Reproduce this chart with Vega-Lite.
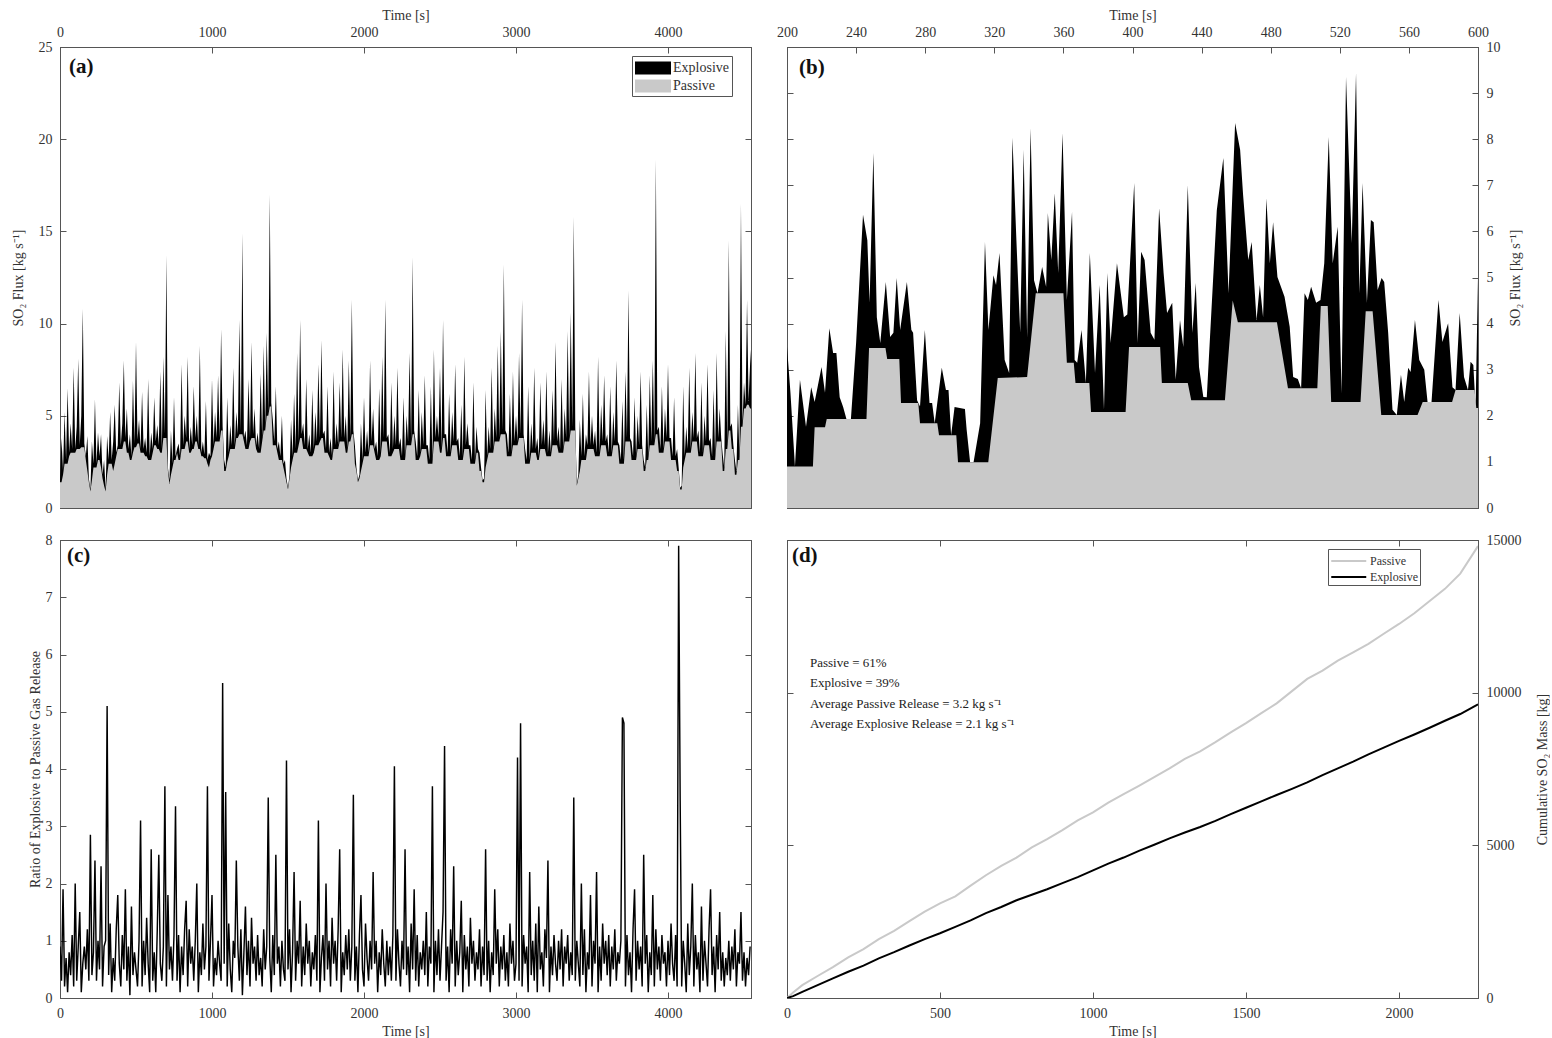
{
"$schema": "https://vega.github.io/schema/vega-lite/v6.json",
"padding": {"left": 10, "top": 7, "right": 0, "bottom": 0},
"config": {
  "font": "Liberation Serif",
  "view": {"stroke": "#555", "strokeWidth": 1},
  "axis": {"labelFont": "Liberation Serif", "titleFont": "Liberation Serif", "labelFontSize": 14, "titleFontSize": 14, "titleFontWeight": "normal", "labelColor": "#333", "titleColor": "#333", "domainColor": "#555", "tickColor": "#555", "tickSize": -6, "labelPadding": 14, "grid": false, "labelFlush": false, "labelOverlap": false},
  "text": {"font": "Liberation Serif", "color": "#222"}
},
"datasets": {
"fluxA": [
{"t":0,"passive":1.4,"total":1.5},{"t":10,"passive":1.4,"total":3.8},{"t":20,"passive":1.8,"total":2.0},{"t":30,"passive":2.4,"total":5.2},{"t":40,"passive":2.4,"total":2.6},{"t":50,"passive":2.4,"total":6.5},{"t":60,"passive":2.8,"total":3.0},{"t":70,"passive":3.0,"total":4.6},{"t":80,"passive":3.0,"total":3.2},{"t":90,"passive":3.0,"total":7.6},
{"t":100,"passive":3.0,"total":3.2},{"t":110,"passive":3.2,"total":4.4},{"t":120,"passive":3.2,"total":8.1},{"t":130,"passive":3.2,"total":3.4},{"t":140,"passive":3.3,"total":5.0},{"t":150,"passive":3.3,"total":10.8},{"t":160,"passive":3.3,"total":3.5},{"t":170,"passive":2.6,"total":2.8},{"t":180,"passive":2.0,"total":3.9},{"t":190,"passive":1.4,"total":1.6},
{"t":200,"passive":0.9,"total":1.0},{"t":210,"passive":1.5,"total":3.6},{"t":220,"passive":2.2,"total":2.4},{"t":230,"passive":2.2,"total":5.9},{"t":240,"passive":2.2,"total":2.4},{"t":250,"passive":2.6,"total":4.1},{"t":260,"passive":2.6,"total":2.8},{"t":270,"passive":2.2,"total":4.0},{"t":280,"passive":1.6,"total":1.8},{"t":290,"passive":1.2,"total":2.6},
{"t":300,"passive":0.9,"total":1.0},{"t":310,"passive":1.8,"total":3.9},{"t":320,"passive":2.4,"total":2.6},{"t":330,"passive":2.4,"total":5.2},{"t":340,"passive":2.4,"total":2.6},{"t":350,"passive":2.0,"total":3.6},{"t":360,"passive":2.4,"total":5.6},{"t":370,"passive":2.8,"total":3.0},{"t":380,"passive":3.2,"total":3.4},{"t":390,"passive":3.2,"total":6.8},
{"t":400,"passive":3.2,"total":3.4},{"t":410,"passive":3.2,"total":4.6},{"t":420,"passive":3.6,"total":8.0},{"t":430,"passive":3.6,"total":3.8},{"t":440,"passive":3.0,"total":5.4},{"t":450,"passive":3.0,"total":3.2},{"t":460,"passive":2.6,"total":4.0},{"t":470,"passive":2.6,"total":2.8},{"t":480,"passive":3.0,"total":6.9},{"t":490,"passive":3.3,"total":3.5},
{"t":500,"passive":3.3,"total":9.0},{"t":510,"passive":3.5,"total":3.7},{"t":520,"passive":3.5,"total":4.8},{"t":530,"passive":3.0,"total":3.2},{"t":540,"passive":3.0,"total":6.3},{"t":550,"passive":3.0,"total":3.2},{"t":560,"passive":2.8,"total":3.8},{"t":570,"passive":2.8,"total":3.0},{"t":580,"passive":2.6,"total":7.0},{"t":590,"passive":2.6,"total":2.8},
{"t":600,"passive":2.6,"total":4.1},{"t":610,"passive":3.0,"total":3.2},{"t":620,"passive":3.4,"total":6.0},{"t":630,"passive":3.4,"total":3.6},{"t":640,"passive":3.2,"total":4.5},{"t":650,"passive":3.2,"total":3.4},{"t":660,"passive":3.0,"total":7.4},{"t":670,"passive":3.0,"total":3.2},{"t":680,"passive":3.8,"total":8.2},{"t":690,"passive":3.8,"total":4.0},
{"t":700,"passive":3.8,"total":13.7},{"t":710,"passive":2.0,"total":2.2},{"t":720,"passive":1.3,"total":1.5},{"t":730,"passive":1.8,"total":4.2},{"t":740,"passive":2.2,"total":2.4},{"t":750,"passive":2.6,"total":6.0},{"t":760,"passive":2.6,"total":2.8},{"t":770,"passive":3.0,"total":3.2},{"t":780,"passive":2.6,"total":3.5},{"t":790,"passive":2.6,"total":2.8},
{"t":800,"passive":3.2,"total":7.8},{"t":810,"passive":3.2,"total":3.4},{"t":820,"passive":3.2,"total":5.0},{"t":830,"passive":3.6,"total":3.8},{"t":840,"passive":3.6,"total":8.2},{"t":850,"passive":3.0,"total":3.2},{"t":860,"passive":3.0,"total":4.4},{"t":870,"passive":3.2,"total":3.4},{"t":880,"passive":3.2,"total":6.6},{"t":890,"passive":3.6,"total":3.8},
{"t":900,"passive":3.6,"total":5.0},{"t":910,"passive":3.2,"total":3.4},{"t":920,"passive":3.2,"total":8.8},{"t":930,"passive":2.8,"total":3.0},{"t":940,"passive":2.8,"total":3.6},{"t":950,"passive":2.7,"total":2.9},{"t":960,"passive":2.7,"total":5.8},{"t":970,"passive":2.4,"total":2.6},{"t":980,"passive":2.2,"total":3.0},{"t":990,"passive":2.6,"total":2.8},
{"t":1000,"passive":2.8,"total":7.0},{"t":1010,"passive":3.2,"total":3.4},{"t":1020,"passive":3.6,"total":5.2},{"t":1030,"passive":3.6,"total":3.8},{"t":1040,"passive":3.6,"total":7.2},{"t":1050,"passive":3.6,"total":3.8},{"t":1060,"passive":4.2,"total":9.7},{"t":1070,"passive":4.2,"total":4.4},{"t":1080,"passive":2.0,"total":2.6},{"t":1090,"passive":2.0,"total":2.2},
{"t":1100,"passive":2.5,"total":6.0},{"t":1110,"passive":2.8,"total":3.0},{"t":1120,"passive":3.2,"total":4.5},{"t":1130,"passive":3.2,"total":3.4},{"t":1140,"passive":3.2,"total":7.6},{"t":1150,"passive":3.2,"total":3.4},{"t":1160,"passive":3.8,"total":5.2},{"t":1170,"passive":3.8,"total":4.0},{"t":1180,"passive":4.0,"total":10.2},{"t":1190,"passive":4.0,"total":4.2},
{"t":1200,"passive":4.0,"total":14.9},{"t":1210,"passive":3.6,"total":3.8},{"t":1220,"passive":3.2,"total":4.2},{"t":1230,"passive":3.2,"total":3.4},{"t":1240,"passive":3.2,"total":7.0},{"t":1250,"passive":3.6,"total":3.8},{"t":1260,"passive":3.8,"total":9.0},{"t":1270,"passive":3.8,"total":4.0},{"t":1280,"passive":3.8,"total":5.4},{"t":1290,"passive":3.2,"total":3.4},
{"t":1300,"passive":3.0,"total":4.1},{"t":1310,"passive":3.0,"total":3.2},{"t":1320,"passive":3.0,"total":7.3},{"t":1330,"passive":3.6,"total":3.8},{"t":1340,"passive":4.2,"total":8.8},{"t":1350,"passive":4.2,"total":4.4},{"t":1360,"passive":5.0,"total":9.5},{"t":1370,"passive":5.0,"total":5.2},{"t":1380,"passive":5.5,"total":17.0},{"t":1390,"passive":5.5,"total":5.7},
{"t":1400,"passive":3.4,"total":4.8},{"t":1410,"passive":3.4,"total":3.6},{"t":1420,"passive":3.4,"total":6.6},{"t":1430,"passive":3.0,"total":3.2},{"t":1440,"passive":2.6,"total":3.6},{"t":1450,"passive":2.6,"total":2.8},{"t":1460,"passive":2.6,"total":5.0},{"t":1470,"passive":2.2,"total":2.4},{"t":1480,"passive":1.8,"total":2.6},{"t":1490,"passive":1.4,"total":1.6},
{"t":1500,"passive":1.0,"total":1.1},{"t":1510,"passive":1.6,"total":1.8},{"t":1520,"passive":2.2,"total":4.8},{"t":1530,"passive":2.6,"total":2.8},{"t":1540,"passive":3.0,"total":6.2},{"t":1550,"passive":3.0,"total":3.2},{"t":1560,"passive":3.0,"total":8.4},{"t":1570,"passive":3.4,"total":3.6},{"t":1580,"passive":3.8,"total":10.2},{"t":1590,"passive":3.8,"total":4.0},
{"t":1600,"passive":3.2,"total":4.6},{"t":1610,"passive":3.2,"total":3.4},{"t":1620,"passive":3.2,"total":7.0},{"t":1630,"passive":3.0,"total":3.2},{"t":1640,"passive":2.8,"total":4.0},{"t":1650,"passive":2.8,"total":3.0},{"t":1660,"passive":2.8,"total":6.4},{"t":1670,"passive":3.0,"total":3.2},{"t":1680,"passive":3.4,"total":5.2},{"t":1690,"passive":3.4,"total":3.6},
{"t":1700,"passive":3.4,"total":7.8},{"t":1710,"passive":3.6,"total":3.8},{"t":1720,"passive":3.8,"total":9.1},{"t":1730,"passive":3.8,"total":4.0},{"t":1740,"passive":3.0,"total":4.2},{"t":1750,"passive":3.0,"total":3.2},{"t":1760,"passive":3.0,"total":6.6},{"t":1770,"passive":2.8,"total":3.0},{"t":1780,"passive":2.6,"total":3.8},{"t":1790,"passive":2.6,"total":2.8},
{"t":1800,"passive":3.2,"total":7.4},{"t":1810,"passive":3.2,"total":3.4},{"t":1820,"passive":3.2,"total":4.6},{"t":1830,"passive":3.2,"total":3.4},{"t":1840,"passive":3.6,"total":6.8},{"t":1850,"passive":3.6,"total":3.8},{"t":1860,"passive":3.6,"total":8.6},{"t":1870,"passive":3.6,"total":3.8},{"t":1880,"passive":3.0,"total":5.0},{"t":1890,"passive":3.0,"total":3.2},
{"t":1900,"passive":3.6,"total":8.0},{"t":1910,"passive":3.6,"total":3.8},{"t":1920,"passive":4.0,"total":11.3},{"t":1930,"passive":4.0,"total":4.2},{"t":1940,"passive":2.4,"total":3.4},{"t":1950,"passive":2.0,"total":2.2},{"t":1960,"passive":1.4,"total":1.5},{"t":1970,"passive":1.6,"total":1.8},{"t":1980,"passive":2.0,"total":4.6},{"t":1990,"passive":2.4,"total":2.6},
{"t":2000,"passive":2.8,"total":6.0},{"t":2010,"passive":2.8,"total":3.0},{"t":2020,"passive":2.8,"total":4.2},{"t":2030,"passive":2.8,"total":3.0},{"t":2040,"passive":3.4,"total":8.0},{"t":2050,"passive":3.4,"total":3.6},{"t":2060,"passive":3.4,"total":5.4},{"t":2070,"passive":3.0,"total":3.2},{"t":2080,"passive":2.6,"total":3.6},{"t":2090,"passive":2.6,"total":2.8},
{"t":2100,"passive":2.6,"total":6.5},{"t":2110,"passive":2.8,"total":3.0},{"t":2120,"passive":3.6,"total":8.2},{"t":2130,"passive":3.6,"total":3.8},{"t":2140,"passive":3.6,"total":11.3},{"t":2150,"passive":3.6,"total":3.8},{"t":2160,"passive":2.8,"total":4.0},{"t":2170,"passive":2.8,"total":3.0},{"t":2180,"passive":2.8,"total":6.8},{"t":2190,"passive":3.0,"total":3.2},
{"t":2200,"passive":3.2,"total":5.0},{"t":2210,"passive":3.2,"total":3.4},{"t":2220,"passive":3.2,"total":7.6},{"t":2230,"passive":3.2,"total":3.4},{"t":2240,"passive":2.6,"total":3.8},{"t":2250,"passive":2.6,"total":2.8},{"t":2260,"passive":2.6,"total":6.0},{"t":2270,"passive":2.6,"total":2.8},{"t":2280,"passive":3.4,"total":5.0},{"t":2290,"passive":3.4,"total":3.6},
{"t":2300,"passive":3.4,"total":8.4},{"t":2310,"passive":3.4,"total":3.6},{"t":2320,"passive":4.0,"total":13.6},{"t":2330,"passive":4.0,"total":4.2},{"t":2340,"passive":2.6,"total":3.6},{"t":2350,"passive":2.6,"total":2.8},{"t":2360,"passive":2.6,"total":6.4},{"t":2370,"passive":2.8,"total":3.0},{"t":2380,"passive":3.2,"total":5.2},{"t":2390,"passive":3.2,"total":3.4},
{"t":2400,"passive":3.2,"total":7.2},{"t":2410,"passive":3.2,"total":3.4},{"t":2420,"passive":2.4,"total":3.4},{"t":2430,"passive":2.4,"total":2.6},{"t":2440,"passive":2.4,"total":6.6},{"t":2450,"passive":2.4,"total":2.6},{"t":2460,"passive":3.6,"total":8.6},{"t":2470,"passive":3.6,"total":3.8},{"t":2480,"passive":3.6,"total":5.0},{"t":2490,"passive":3.6,"total":3.8},
{"t":2500,"passive":3.0,"total":7.6},{"t":2510,"passive":3.0,"total":3.2},{"t":2520,"passive":3.8,"total":10.2},{"t":2530,"passive":3.8,"total":4.0},{"t":2540,"passive":2.8,"total":4.0},{"t":2550,"passive":2.8,"total":3.0},{"t":2560,"passive":2.8,"total":6.2},{"t":2570,"passive":2.8,"total":3.0},{"t":2580,"passive":3.4,"total":5.2},{"t":2590,"passive":3.4,"total":3.6},
{"t":2600,"passive":3.4,"total":7.8},{"t":2610,"passive":3.4,"total":3.6},{"t":2620,"passive":2.6,"total":3.8},{"t":2630,"passive":2.6,"total":2.8},{"t":2640,"passive":2.6,"total":5.6},{"t":2650,"passive":2.6,"total":2.8},{"t":2660,"passive":3.2,"total":8.2},{"t":2670,"passive":3.2,"total":3.4},{"t":2680,"passive":3.2,"total":4.6},{"t":2690,"passive":3.2,"total":3.4},
{"t":2700,"passive":2.4,"total":3.4},{"t":2710,"passive":2.4,"total":2.6},{"t":2720,"passive":2.4,"total":6.8},{"t":2730,"passive":2.4,"total":2.6},{"t":2740,"passive":3.0,"total":4.4},{"t":2750,"passive":3.0,"total":3.2},{"t":2760,"passive":2.0,"total":3.0},{"t":2770,"passive":2.0,"total":2.2},{"t":2780,"passive":1.4,"total":1.5},{"t":2790,"passive":1.4,"total":1.6},
{"t":2800,"passive":2.2,"total":6.4},{"t":2810,"passive":2.6,"total":2.8},{"t":2820,"passive":3.0,"total":4.4},{"t":2830,"passive":3.0,"total":3.2},{"t":2840,"passive":3.0,"total":7.6},{"t":2850,"passive":3.0,"total":3.2},{"t":2860,"passive":3.6,"total":5.4},{"t":2870,"passive":3.6,"total":3.8},{"t":2880,"passive":3.6,"total":8.8},{"t":2890,"passive":3.6,"total":3.8},
{"t":2900,"passive":4.0,"total":9.6},{"t":2910,"passive":4.0,"total":4.2},{"t":2920,"passive":4.0,"total":13.2},{"t":2930,"passive":4.0,"total":4.2},{"t":2940,"passive":2.8,"total":4.0},{"t":2950,"passive":2.8,"total":3.0},{"t":2960,"passive":2.8,"total":6.2},{"t":2970,"passive":2.8,"total":3.0},{"t":2980,"passive":3.4,"total":7.4},{"t":2990,"passive":3.4,"total":3.6},
{"t":3000,"passive":3.4,"total":5.0},{"t":3010,"passive":3.4,"total":3.6},{"t":3020,"passive":3.8,"total":8.4},{"t":3030,"passive":3.8,"total":4.0},{"t":3040,"passive":3.8,"total":11.3},{"t":3050,"passive":3.8,"total":4.0},{"t":3060,"passive":2.4,"total":3.2},{"t":3070,"passive":2.4,"total":2.6},{"t":3080,"passive":2.4,"total":6.6},{"t":3090,"passive":2.4,"total":2.6},
{"t":3100,"passive":3.0,"total":4.6},{"t":3110,"passive":3.0,"total":3.2},{"t":3120,"passive":3.0,"total":7.6},{"t":3130,"passive":3.0,"total":3.2},{"t":3140,"passive":2.6,"total":3.8},{"t":3150,"passive":2.6,"total":2.8},{"t":3160,"passive":3.2,"total":6.8},{"t":3170,"passive":3.2,"total":3.4},{"t":3180,"passive":3.2,"total":4.8},{"t":3190,"passive":3.2,"total":3.4},
{"t":3200,"passive":2.8,"total":7.4},{"t":3210,"passive":2.8,"total":3.0},{"t":3220,"passive":2.8,"total":4.2},{"t":3230,"passive":2.8,"total":3.0},{"t":3240,"passive":3.4,"total":6.4},{"t":3250,"passive":3.4,"total":3.6},{"t":3260,"passive":3.4,"total":9.0},{"t":3270,"passive":3.4,"total":3.6},{"t":3280,"passive":3.0,"total":4.4},{"t":3290,"passive":3.0,"total":3.2},
{"t":3300,"passive":3.0,"total":7.0},{"t":3310,"passive":3.0,"total":3.2},{"t":3320,"passive":3.6,"total":5.4},{"t":3330,"passive":3.6,"total":3.8},{"t":3340,"passive":3.6,"total":9.6},{"t":3350,"passive":3.6,"total":3.8},{"t":3360,"passive":4.2,"total":10.6},{"t":3370,"passive":4.2,"total":4.4},{"t":3380,"passive":4.2,"total":15.8},{"t":3390,"passive":4.2,"total":4.4},
{"t":3400,"passive":1.2,"total":1.3},{"t":3410,"passive":1.6,"total":1.8},{"t":3420,"passive":2.0,"total":4.8},{"t":3430,"passive":2.6,"total":2.8},{"t":3440,"passive":2.6,"total":6.2},{"t":3450,"passive":2.6,"total":2.8},{"t":3460,"passive":2.6,"total":4.0},{"t":3470,"passive":3.2,"total":3.4},{"t":3480,"passive":3.2,"total":7.4},{"t":3490,"passive":3.2,"total":3.4},
{"t":3500,"passive":3.2,"total":5.0},{"t":3510,"passive":3.2,"total":3.4},{"t":3520,"passive":2.8,"total":4.2},{"t":3530,"passive":2.8,"total":3.0},{"t":3540,"passive":2.8,"total":8.2},{"t":3550,"passive":2.8,"total":3.0},{"t":3560,"passive":3.4,"total":5.6},{"t":3570,"passive":3.4,"total":3.6},{"t":3580,"passive":3.4,"total":7.2},{"t":3590,"passive":3.4,"total":3.6},
{"t":3600,"passive":2.8,"total":4.0},{"t":3610,"passive":2.8,"total":3.0},{"t":3620,"passive":2.8,"total":6.6},{"t":3630,"passive":2.8,"total":3.0},{"t":3640,"passive":3.4,"total":5.2},{"t":3650,"passive":3.4,"total":3.6},{"t":3660,"passive":3.4,"total":8.0},{"t":3670,"passive":3.4,"total":3.6},{"t":3680,"passive":2.4,"total":3.4},{"t":3690,"passive":2.4,"total":2.6},
{"t":3700,"passive":2.4,"total":5.8},{"t":3710,"passive":2.4,"total":2.6},{"t":3720,"passive":3.6,"total":7.4},{"t":3730,"passive":3.6,"total":3.8},{"t":3740,"passive":3.6,"total":11.8},{"t":3750,"passive":3.6,"total":3.8},{"t":3760,"passive":2.6,"total":3.6},{"t":3770,"passive":2.6,"total":2.8},{"t":3780,"passive":2.6,"total":6.0},{"t":3790,"passive":2.6,"total":2.8},
{"t":3800,"passive":3.2,"total":5.0},{"t":3810,"passive":3.2,"total":3.4},{"t":3820,"passive":3.2,"total":7.4},{"t":3830,"passive":3.2,"total":3.4},{"t":3840,"passive":2.0,"total":2.6},{"t":3850,"passive":2.0,"total":2.2},{"t":3860,"passive":2.6,"total":5.6},{"t":3870,"passive":2.6,"total":2.8},{"t":3880,"passive":3.4,"total":7.2},{"t":3890,"passive":3.4,"total":3.6},
{"t":3900,"passive":3.4,"total":8.0},{"t":3910,"passive":3.4,"total":3.6},{"t":3920,"passive":4.0,"total":18.9},{"t":3930,"passive":4.0,"total":4.2},{"t":3940,"passive":3.0,"total":4.4},{"t":3950,"passive":3.0,"total":3.2},{"t":3960,"passive":3.0,"total":6.6},{"t":3970,"passive":3.0,"total":3.2},{"t":3980,"passive":3.6,"total":5.4},{"t":3990,"passive":3.6,"total":3.8},
{"t":4000,"passive":3.6,"total":7.8},{"t":4010,"passive":3.6,"total":3.8},{"t":4020,"passive":2.6,"total":3.8},{"t":4030,"passive":2.6,"total":2.8},{"t":4040,"passive":2.6,"total":6.0},{"t":4050,"passive":2.6,"total":2.8},{"t":4060,"passive":2.0,"total":3.2},{"t":4070,"passive":2.0,"total":2.2},{"t":4080,"passive":1.0,"total":1.1},{"t":4090,"passive":1.0,"total":1.2},
{"t":4100,"passive":2.2,"total":6.6},{"t":4110,"passive":2.6,"total":2.8},{"t":4120,"passive":3.0,"total":4.4},{"t":4130,"passive":3.0,"total":3.2},{"t":4140,"passive":3.0,"total":7.6},{"t":4150,"passive":3.0,"total":3.2},{"t":4160,"passive":3.6,"total":5.2},{"t":4170,"passive":3.6,"total":3.8},{"t":4180,"passive":3.6,"total":8.4},{"t":4190,"passive":3.6,"total":3.8},
{"t":4200,"passive":2.8,"total":4.2},{"t":4210,"passive":2.8,"total":3.0},{"t":4220,"passive":2.8,"total":6.8},{"t":4230,"passive":2.8,"total":3.0},{"t":4240,"passive":3.4,"total":5.0},{"t":4250,"passive":3.4,"total":3.6},{"t":4260,"passive":3.4,"total":7.8},{"t":4270,"passive":3.4,"total":3.6},{"t":4280,"passive":2.6,"total":3.8},{"t":4290,"passive":2.6,"total":2.8},
{"t":4300,"passive":2.6,"total":6.4},{"t":4310,"passive":2.6,"total":2.8},{"t":4320,"passive":3.6,"total":8.4},{"t":4330,"passive":3.6,"total":3.8},{"t":4340,"passive":3.6,"total":5.4},{"t":4350,"passive":3.6,"total":3.8},{"t":4360,"passive":2.0,"total":2.9},{"t":4370,"passive":2.0,"total":2.2},{"t":4380,"passive":3.2,"total":9.6},{"t":4390,"passive":3.2,"total":3.4},
{"t":4400,"passive":4.2,"total":14.5},{"t":4410,"passive":4.2,"total":4.4},{"t":4420,"passive":3.2,"total":4.6},{"t":4430,"passive":3.2,"total":3.4},{"t":4440,"passive":1.8,"total":2.6},{"t":4450,"passive":1.8,"total":2.0},{"t":4460,"passive":2.6,"total":5.6},{"t":4470,"passive":2.6,"total":2.8},{"t":4480,"passive":4.4,"total":16.5},{"t":4490,"passive":4.4,"total":4.6},
{"t":4500,"passive":5.4,"total":6.8},{"t":4510,"passive":5.4,"total":5.6},{"t":4520,"passive":5.6,"total":11.3},{"t":4530,"passive":5.6,"total":5.8},{"t":4540,"passive":5.4,"total":7.8},{"t":4546,"passive":5.4,"total":8.6}
],
"fluxBTotal": [
{"t":200,"flux":3.5},{"t":202,"flux":2.5},{"t":204.6,"flux":0.9},{"t":207.5,"flux":2.78},{"t":211,"flux":1.76},{"t":214,"flux":2.62},{"t":216,"flux":2.3},{"t":220,"flux":3.06},{"t":222,"flux":2.5},{"t":224.5,"flux":3.9},
{"t":226.7,"flux":3.36},{"t":228.6,"flux":3.36},{"t":230.5,"flux":2.4},{"t":232.5,"flux":2.19},{"t":234.4,"flux":1.93},{"t":237,"flux":1.93},{"t":240,"flux":3.58},{"t":244,"flux":6.36},{"t":246.5,"flux":5.81},{"t":247.8,"flux":4.45},
{"t":250,"flux":7.7},{"t":252,"flux":4.14},{"t":254,"flux":3.58},{"t":257.2,"flux":4.9},{"t":259.7,"flux":3.71},{"t":261.6,"flux":3.8},{"t":263.5,"flux":4.99},{"t":265.5,"flux":3.86},{"t":269.4,"flux":4.9},{"t":272,"flux":3.86},
{"t":273,"flux":3.8},{"t":275.3,"flux":2.34},{"t":277,"flux":2.2},{"t":279.8,"flux":3.86},{"t":282.5,"flux":2.28},{"t":284,"flux":2.28},{"t":285.5,"flux":1.84},{"t":289.6,"flux":3.04},{"t":292,"flux":2.56},{"t":293.5,"flux":2.56},
{"t":295,"flux":1.58},{"t":297,"flux":2.19},{"t":303,"flux":2.15},{"t":304,"flux":1.7},{"t":306,"flux":0.99},{"t":308,"flux":0.99},{"t":311.8,"flux":1.84},{"t":314.6,"flux":5.77},{"t":316.6,"flux":3.86},{"t":319.5,"flux":5.05},
{"t":321,"flux":4.84},{"t":323,"flux":5.53},{"t":326,"flux":3.21},{"t":328.6,"flux":2.93},{"t":330.5,"flux":8.03},{"t":332.8,"flux":5.8},{"t":335,"flux":3.8},{"t":337,"flux":7.77},{"t":339,"flux":3.7},{"t":341,"flux":8.24},
{"t":343,"flux":4.94},{"t":345,"flux":4.66},{"t":347.7,"flux":5.23},{"t":350,"flux":4.8},{"t":351,"flux":6.4},{"t":353,"flux":5.38},{"t":355,"flux":6.83},{"t":357,"flux":5.1},{"t":359.5,"flux":8.13},{"t":362,"flux":4.51},
{"t":365,"flux":6.42},{"t":366.5,"flux":3.21},{"t":368,"flux":3.15},{"t":370.5,"flux":3.86},{"t":373,"flux":2.71},{"t":375.3,"flux":5.53},{"t":378.3,"flux":2.93},{"t":381,"flux":4.84},{"t":383.5,"flux":2.13},{"t":385.4,"flux":5.1},
{"t":387.3,"flux":3.58},{"t":391,"flux":5.31},{"t":395,"flux":4.14},{"t":397,"flux":4.2},{"t":401,"flux":7.05},{"t":403,"flux":3.58},{"t":405,"flux":5.56},{"t":407,"flux":5.38},{"t":410.5,"flux":3.8},{"t":412.7,"flux":3.65},
{"t":415.4,"flux":6.5},{"t":418,"flux":5.1},{"t":420,"flux":4.23},{"t":423,"flux":4.45},{"t":425,"flux":2.78},{"t":427.5,"flux":4.08},{"t":429.4,"flux":3.49},{"t":432,"flux":7.0},{"t":434.7,"flux":3.8},{"t":436.6,"flux":4.88},
{"t":438.5,"flux":3.06},{"t":441,"flux":2.41},{"t":443,"flux":2.4},{"t":448.8,"flux":6.46},{"t":452.6,"flux":7.59},{"t":455.6,"flux":4.66},{"t":459.4,"flux":8.35},{"t":462.3,"flux":7.77},{"t":464,"flux":6.8},{"t":467,"flux":5.38},
{"t":469,"flux":5.77},{"t":471.8,"flux":4.08},{"t":473.7,"flux":4.84},{"t":475.6,"flux":4.14},{"t":477.5,"flux":6.72},{"t":479.5,"flux":5.31},{"t":481.4,"flux":6.2},{"t":483.9,"flux":5.01},{"t":488,"flux":4.58},{"t":491,"flux":3.93},
{"t":493,"flux":2.84},{"t":495.7,"flux":2.8},{"t":497.6,"flux":2.6},{"t":499.6,"flux":4.66},{"t":501.5,"flux":4.51},{"t":503.4,"flux":4.8},{"t":506.3,"flux":4.45},{"t":508.8,"flux":4.51},{"t":511,"flux":5.31},{"t":513.6,"flux":8.05},
{"t":515.9,"flux":5.31},{"t":518.8,"flux":6.1},{"t":521,"flux":2.49},{"t":523.6,"flux":9.35},{"t":526.9,"flux":5.75},{"t":529.4,"flux":9.43},{"t":531.3,"flux":4.66},{"t":533.2,"flux":7.05},{"t":535.7,"flux":4.45},{"t":538,"flux":6.25},
{"t":539.6,"flux":6.2},{"t":541.9,"flux":4.73},{"t":544.2,"flux":4.99},{"t":545.7,"flux":4.9},{"t":548,"flux":3.8},{"t":550.5,"flux":2.13},{"t":553,"flux":2.02},{"t":555.4,"flux":2.89},{"t":557.3,"flux":2.3},{"t":559.6,"flux":3.04},
{"t":561,"flux":2.95},{"t":563.5,"flux":4.08},{"t":566,"flux":3.21},{"t":568.9,"flux":3.0},{"t":570.8,"flux":2.3},{"t":573.1,"flux":2.3},{"t":577.1,"flux":4.51},{"t":579.4,"flux":3.6},{"t":582.7,"flux":4.01},{"t":585.2,"flux":2.62},
{"t":587,"flux":2.56},{"t":589.4,"flux":4.23},{"t":591.9,"flux":2.84},{"t":594.2,"flux":2.56},{"t":595.7,"flux":3.17},{"t":597.3,"flux":3.1},{"t":598.6,"flux":2.17},{"t":600,"flux":5.0}
],
"fluxBPassive": [
{"t":200,"flux":0.9},{"t":215,"flux":0.9},{"t":216,"flux":1.75},{"t":222,"flux":1.75},{"t":223,"flux":1.93},{"t":246,"flux":1.93},{"t":247.5,"flux":3.47},{"t":257,"flux":3.47},{"t":258,"flux":3.23},{"t":265,"flux":3.23},
{"t":266,"flux":2.28},{"t":276,"flux":2.28},{"t":277,"flux":1.84},{"t":287,"flux":1.84},{"t":288,"flux":1.58},{"t":298,"flux":1.58},{"t":299,"flux":0.99},{"t":316.5,"flux":0.99},{"t":322,"flux":2.82},{"t":339,"flux":2.84},
{"t":344,"flux":4.66},{"t":360,"flux":4.66},{"t":362,"flux":3.15},{"t":366,"flux":3.15},{"t":367,"flux":2.71},{"t":375,"flux":2.71},{"t":376,"flux":2.08},{"t":396,"flux":2.08},{"t":398,"flux":3.49},{"t":416,"flux":3.49},
{"t":417,"flux":2.71},{"t":432,"flux":2.71},{"t":434,"flux":2.34},{"t":453.5,"flux":2.34},{"t":458,"flux":4.5},{"t":461,"flux":4.03},{"t":483.6,"flux":4.03},{"t":490,"flux":2.6},{"t":507,"flux":2.6},{"t":509,"flux":4.38},
{"t":513,"flux":4.38},{"t":515,"flux":2.3},{"t":532,"flux":2.3},{"t":535,"flux":4.27},{"t":539,"flux":4.27},{"t":544,"flux":2.02},{"t":565,"flux":2.02},{"t":568,"flux":2.3},{"t":585,"flux":2.3},{"t":587,"flux":2.56},
{"t":598,"flux":2.56},{"t":599,"flux":2.17},{"t":600,"flux":2.17}
],
"ratio": [
{"t":0,"r":0.9},{"t":10,"r":0.3},{"t":20,"r":1.9},{"t":30,"r":0.2},{"t":40,"r":0.7},{"t":50,"r":0.1},{"t":60,"r":0.8},{"t":70,"r":0.4},{"t":80,"r":1.1},{"t":90,"r":0.2},
{"t":100,"r":2.0},{"t":110,"r":0.3},{"t":120,"r":0.9},{"t":130,"r":1.5},{"t":140,"r":0.1},{"t":150,"r":0.6},{"t":160,"r":0.9},{"t":170,"r":0.5},{"t":180,"r":1.2},{"t":190,"r":0.3},
{"t":200,"r":2.85},{"t":210,"r":0.4},{"t":220,"r":0.8},{"t":230,"r":2.4},{"t":240,"r":0.3},{"t":250,"r":1.0},{"t":260,"r":0.5},{"t":270,"r":2.3},{"t":280,"r":0.2},{"t":290,"r":0.9},
{"t":300,"r":1.0},{"t":310,"r":5.1},{"t":320,"r":0.4},{"t":330,"r":1.3},{"t":340,"r":0.1},{"t":350,"r":0.7},{"t":360,"r":0.3},{"t":370,"r":1.2},{"t":380,"r":1.8},{"t":390,"r":0.6},
{"t":400,"r":0.2},{"t":410,"r":1.1},{"t":420,"r":0.5},{"t":430,"r":1.9},{"t":440,"r":0.3},{"t":450,"r":0.9},{"t":460,"r":0.05},{"t":470,"r":1.6},{"t":480,"r":0.4},{"t":490,"r":0.8},
{"t":500,"r":0.5},{"t":510,"r":0.2},{"t":520,"r":1.0},{"t":530,"r":3.1},{"t":540,"r":0.2},{"t":550,"r":1.0},{"t":560,"r":0.4},{"t":570,"r":1.4},{"t":580,"r":0.6},{"t":590,"r":0.1},
{"t":600,"r":2.6},{"t":610,"r":0.3},{"t":620,"r":0.8},{"t":630,"r":0.1},{"t":640,"r":1.2},{"t":650,"r":2.5},{"t":660,"r":0.6},{"t":670,"r":0.3},{"t":680,"r":0.9},{"t":690,"r":3.7},
{"t":700,"r":0.2},{"t":710,"r":1.8},{"t":720,"r":0.5},{"t":730,"r":0.9},{"t":740,"r":0.3},{"t":750,"r":1.1},{"t":760,"r":3.35},{"t":770,"r":0.3},{"t":780,"r":1.1},{"t":790,"r":0.1},
{"t":800,"r":0.9},{"t":810,"r":0.4},{"t":820,"r":1.2},{"t":830,"r":1.7},{"t":840,"r":0.2},{"t":850,"r":1.2},{"t":860,"r":0.6},{"t":870,"r":0.9},{"t":880,"r":0.3},{"t":890,"r":1.0},
{"t":900,"r":2.0},{"t":910,"r":0.1},{"t":920,"r":0.8},{"t":930,"r":0.4},{"t":940,"r":1.3},{"t":950,"r":0.5},{"t":960,"r":0.9},{"t":970,"r":3.7},{"t":980,"r":0.3},{"t":990,"r":1.0},
{"t":1000,"r":1.8},{"t":1010,"r":0.2},{"t":1020,"r":0.7},{"t":1030,"r":0.4},{"t":1040,"r":1.0},{"t":1050,"r":0.6},{"t":1060,"r":0.3},{"t":1070,"r":5.5},{"t":1080,"r":0.6},{"t":1090,"r":3.6},
{"t":1100,"r":0.2},{"t":1110,"r":1.3},{"t":1120,"r":0.5},{"t":1130,"r":0.1},{"t":1140,"r":1.0},{"t":1150,"r":0.7},{"t":1160,"r":2.4},{"t":1170,"r":0.9},{"t":1180,"r":0.3},{"t":1190,"r":1.2},
{"t":1200,"r":0.05},{"t":1210,"r":0.8},{"t":1220,"r":1.6},{"t":1230,"r":0.4},{"t":1240,"r":1.0},{"t":1250,"r":0.2},{"t":1260,"r":1.4},{"t":1270,"r":0.6},{"t":1280,"r":0.9},{"t":1290,"r":0.3},
{"t":1300,"r":1.1},{"t":1310,"r":0.4},{"t":1320,"r":0.7},{"t":1330,"r":0.2},{"t":1340,"r":1.2},{"t":1350,"r":0.5},{"t":1360,"r":0.9},{"t":1370,"r":3.5},{"t":1380,"r":0.7},{"t":1390,"r":0.1},
{"t":1400,"r":1.1},{"t":1410,"r":0.4},{"t":1420,"r":2.5},{"t":1430,"r":0.6},{"t":1440,"r":0.9},{"t":1450,"r":0.2},{"t":1460,"r":1.0},{"t":1470,"r":0.5},{"t":1480,"r":0.3},{"t":1490,"r":4.15},
{"t":1500,"r":0.5},{"t":1510,"r":1.2},{"t":1520,"r":0.1},{"t":1530,"r":0.8},{"t":1540,"r":2.2},{"t":1550,"r":0.3},{"t":1560,"r":1.0},{"t":1570,"r":0.6},{"t":1580,"r":1.7},{"t":1590,"r":0.2},
{"t":1600,"r":0.9},{"t":1610,"r":0.4},{"t":1620,"r":1.3},{"t":1630,"r":0.6},{"t":1640,"r":1.0},{"t":1650,"r":0.2},{"t":1660,"r":0.8},{"t":1670,"r":0.5},{"t":1680,"r":1.1},{"t":1690,"r":0.3},
{"t":1700,"r":3.1},{"t":1710,"r":0.1},{"t":1720,"r":0.7},{"t":1730,"r":1.1},{"t":1740,"r":0.3},{"t":1750,"r":2.0},{"t":1760,"r":0.5},{"t":1770,"r":1.0},{"t":1780,"r":0.2},{"t":1790,"r":1.4},
{"t":1800,"r":0.6},{"t":1810,"r":1.0},{"t":1820,"r":0.3},{"t":1830,"r":1.2},{"t":1840,"r":2.6},{"t":1850,"r":0.1},{"t":1860,"r":0.8},{"t":1870,"r":0.4},{"t":1880,"r":1.1},{"t":1890,"r":0.5},
{"t":1900,"r":1.2},{"t":1910,"r":0.3},{"t":1920,"r":0.9},{"t":1930,"r":3.55},{"t":1940,"r":0.3},{"t":1950,"r":0.9},{"t":1960,"r":0.1},{"t":1970,"r":1.1},{"t":1980,"r":1.8},{"t":1990,"r":0.5},
{"t":2000,"r":0.2},{"t":2010,"r":1.3},{"t":2020,"r":0.7},{"t":2030,"r":0.3},{"t":2040,"r":1.0},{"t":2050,"r":0.5},{"t":2060,"r":2.2},{"t":2070,"r":0.6},{"t":2080,"r":1.0},{"t":2090,"r":0.1},
{"t":2100,"r":0.8},{"t":2110,"r":0.4},{"t":2120,"r":1.2},{"t":2130,"r":0.6},{"t":2140,"r":0.2},{"t":2150,"r":1.0},{"t":2160,"r":0.4},{"t":2170,"r":0.9},{"t":2180,"r":0.3},{"t":2190,"r":1.1},
{"t":2200,"r":4.05},{"t":2210,"r":0.3},{"t":2220,"r":1.2},{"t":2230,"r":0.6},{"t":2240,"r":0.2},{"t":2250,"r":1.0},{"t":2260,"r":0.5},{"t":2270,"r":2.6},{"t":2280,"r":0.4},{"t":2290,"r":0.9},
{"t":2300,"r":0.1},{"t":2310,"r":1.3},{"t":2320,"r":0.5},{"t":2330,"r":1.9},{"t":2340,"r":0.3},{"t":2350,"r":1.1},{"t":2360,"r":0.2},{"t":2370,"r":0.8},{"t":2380,"r":0.5},{"t":2390,"r":1.0},
{"t":2400,"r":0.4},{"t":2410,"r":1.5},{"t":2420,"r":0.2},{"t":2430,"r":0.9},{"t":2440,"r":0.6},{"t":2450,"r":3.7},{"t":2460,"r":0.1},{"t":2470,"r":1.0},{"t":2480,"r":0.4},{"t":2490,"r":1.2},
{"t":2500,"r":0.3},{"t":2510,"r":0.9},{"t":2520,"r":1.5},{"t":2530,"r":4.4},{"t":2540,"r":0.3},{"t":2550,"r":0.9},{"t":2560,"r":0.1},{"t":2570,"r":1.2},{"t":2580,"r":0.6},{"t":2590,"r":2.3},
{"t":2600,"r":0.2},{"t":2610,"r":1.0},{"t":2620,"r":0.4},{"t":2630,"r":0.8},{"t":2640,"r":1.7},{"t":2650,"r":0.1},{"t":2660,"r":1.1},{"t":2670,"r":0.5},{"t":2680,"r":0.9},{"t":2690,"r":0.2},
{"t":2700,"r":1.4},{"t":2710,"r":0.6},{"t":2720,"r":1.0},{"t":2730,"r":0.3},{"t":2740,"r":0.8},{"t":2750,"r":0.5},{"t":2760,"r":1.2},{"t":2770,"r":0.2},{"t":2780,"r":0.9},{"t":2790,"r":0.4},
{"t":2800,"r":2.6},{"t":2810,"r":0.3},{"t":2820,"r":1.0},{"t":2830,"r":0.1},{"t":2840,"r":0.8},{"t":2850,"r":0.4},{"t":2860,"r":1.9},{"t":2870,"r":0.6},{"t":2880,"r":1.2},{"t":2890,"r":0.2},
{"t":2900,"r":0.9},{"t":2910,"r":0.5},{"t":2920,"r":1.1},{"t":2930,"r":0.3},{"t":2940,"r":0.8},{"t":2950,"r":0.2},{"t":2960,"r":1.3},{"t":2970,"r":0.6},{"t":2980,"r":1.0},{"t":2990,"r":0.3},
{"t":3000,"r":0.6},{"t":3010,"r":4.2},{"t":3020,"r":0.3},{"t":3030,"r":4.8},{"t":3040,"r":0.2},{"t":3050,"r":1.1},{"t":3060,"r":0.6},{"t":3070,"r":0.9},{"t":3080,"r":0.1},{"t":3090,"r":2.2},
{"t":3100,"r":0.4},{"t":3110,"r":1.0},{"t":3120,"r":0.3},{"t":3130,"r":1.3},{"t":3140,"r":0.1},{"t":3150,"r":1.6},{"t":3160,"r":0.5},{"t":3170,"r":0.8},{"t":3180,"r":0.2},{"t":3190,"r":1.2},
{"t":3200,"r":0.7},{"t":3210,"r":2.4},{"t":3220,"r":0.1},{"t":3230,"r":0.9},{"t":3240,"r":0.4},{"t":3250,"r":1.1},{"t":3260,"r":0.6},{"t":3270,"r":0.3},{"t":3280,"r":1.0},{"t":3290,"r":0.5},
{"t":3300,"r":1.2},{"t":3310,"r":0.2},{"t":3320,"r":0.9},{"t":3330,"r":0.6},{"t":3340,"r":1.1},{"t":3350,"r":0.3},{"t":3360,"r":0.8},{"t":3370,"r":0.4},{"t":3380,"r":3.5},{"t":3390,"r":0.3},
{"t":3400,"r":1.0},{"t":3410,"r":0.6},{"t":3420,"r":0.2},{"t":3430,"r":2.0},{"t":3440,"r":0.4},{"t":3450,"r":1.2},{"t":3460,"r":0.1},{"t":3470,"r":0.8},{"t":3480,"r":0.5},{"t":3490,"r":1.8},
{"t":3500,"r":0.2},{"t":3510,"r":1.0},{"t":3520,"r":0.6},{"t":3530,"r":2.2},{"t":3540,"r":0.1},{"t":3550,"r":0.9},{"t":3560,"r":0.3},{"t":3570,"r":1.3},{"t":3580,"r":0.6},{"t":3590,"r":1.0},
{"t":3600,"r":0.4},{"t":3610,"r":1.1},{"t":3620,"r":0.2},{"t":3630,"r":0.9},{"t":3640,"r":0.5},{"t":3650,"r":1.2},{"t":3660,"r":0.3},{"t":3670,"r":0.8},{"t":3680,"r":0.6},{"t":3690,"r":1.0},
{"t":3700,"r":4.9},{"t":3710,"r":4.8},{"t":3720,"r":0.2},{"t":3730,"r":1.1},{"t":3740,"r":0.4},{"t":3750,"r":0.8},{"t":3760,"r":0.1},{"t":3770,"r":1.2},{"t":3780,"r":1.9},{"t":3790,"r":0.3},
{"t":3800,"r":1.0},{"t":3810,"r":0.5},{"t":3820,"r":0.9},{"t":3830,"r":0.2},{"t":3840,"r":2.5},{"t":3850,"r":0.6},{"t":3860,"r":1.1},{"t":3870,"r":0.1},{"t":3880,"r":0.8},{"t":3890,"r":0.4},
{"t":3900,"r":1.8},{"t":3910,"r":0.2},{"t":3920,"r":1.2},{"t":3930,"r":0.5},{"t":3940,"r":0.9},{"t":3950,"r":0.3},{"t":3960,"r":1.1},{"t":3970,"r":0.6},{"t":3980,"r":0.8},{"t":3990,"r":0.2},
{"t":4000,"r":1.0},{"t":4010,"r":0.4},{"t":4020,"r":1.3},{"t":4030,"r":0.6},{"t":4040,"r":0.3},{"t":4050,"r":1.1},{"t":4060,"r":0.2},{"t":4070,"r":7.9},{"t":4080,"r":3.45},{"t":4090,"r":0.2},
{"t":4100,"r":1.0},{"t":4110,"r":0.6},{"t":4120,"r":0.1},{"t":4130,"r":1.3},{"t":4140,"r":0.4},{"t":4150,"r":0.9},{"t":4160,"r":2.0},{"t":4170,"r":0.2},{"t":4180,"r":1.1},{"t":4190,"r":0.5},
{"t":4200,"r":0.8},{"t":4210,"r":0.1},{"t":4220,"r":1.6},{"t":4230,"r":0.3},{"t":4240,"r":1.0},{"t":4250,"r":0.6},{"t":4260,"r":0.2},{"t":4270,"r":1.2},{"t":4280,"r":1.9},{"t":4290,"r":0.4},
{"t":4300,"r":0.9},{"t":4310,"r":0.1},{"t":4320,"r":1.1},{"t":4330,"r":0.5},{"t":4340,"r":1.5},{"t":4350,"r":0.3},{"t":4360,"r":0.8},{"t":4370,"r":0.2},{"t":4380,"r":0.7},{"t":4390,"r":0.4},
{"t":4400,"r":1.0},{"t":4410,"r":0.3},{"t":4420,"r":0.9},{"t":4430,"r":0.5},{"t":4440,"r":1.2},{"t":4450,"r":0.2},{"t":4460,"r":0.8},{"t":4470,"r":0.6},{"t":4480,"r":1.5},{"t":4490,"r":0.3},
{"t":4500,"r":0.8},{"t":4510,"r":0.2},{"t":4520,"r":0.7},{"t":4530,"r":0.4},{"t":4540,"r":0.9}
],
"cumulative": [
{"t":0,"series":"Passive","mass":0},{"t":20,"series":"Passive","mass":180},{"t":50,"series":"Passive","mass":420},{"t":100,"series":"Passive","mass":720},{"t":150,"series":"Passive","mass":1010},{"t":200,"series":"Passive","mass":1330},{"t":250,"series":"Passive","mass":1600},{"t":300,"series":"Passive","mass":1930},{"t":350,"series":"Passive","mass":2200},{"t":400,"series":"Passive","mass":2520},{"t":450,"series":"Passive","mass":2830},{"t":500,"series":"Passive","mass":3100},{"t":550,"series":"Passive","mass":3330},{"t":600,"series":"Passive","mass":3680},{"t":650,"series":"Passive","mass":4020},{"t":700,"series":"Passive","mass":4330},{"t":750,"series":"Passive","mass":4600},{"t":800,"series":"Passive","mass":4930},{"t":850,"series":"Passive","mass":5200},{"t":900,"series":"Passive","mass":5500},{"t":950,"series":"Passive","mass":5820},{"t":1000,"series":"Passive","mass":6080},{"t":1050,"series":"Passive","mass":6400},{"t":1100,"series":"Passive","mass":6680},{"t":1150,"series":"Passive","mass":6950},{"t":1200,"series":"Passive","mass":7230},{"t":1250,"series":"Passive","mass":7520},{"t":1300,"series":"Passive","mass":7830},{"t":1350,"series":"Passive","mass":8080},{"t":1400,"series":"Passive","mass":8380},{"t":1450,"series":"Passive","mass":8700},{"t":1500,"series":"Passive","mass":9000},{"t":1550,"series":"Passive","mass":9330},{"t":1600,"series":"Passive","mass":9650},{"t":1650,"series":"Passive","mass":10050},{"t":1700,"series":"Passive","mass":10450},{"t":1750,"series":"Passive","mass":10720},{"t":1800,"series":"Passive","mass":11050},{"t":1850,"series":"Passive","mass":11320},{"t":1900,"series":"Passive","mass":11600},{"t":1950,"series":"Passive","mass":11930},{"t":2000,"series":"Passive","mass":12250},{"t":2050,"series":"Passive","mass":12600},{"t":2100,"series":"Passive","mass":13000},{"t":2150,"series":"Passive","mass":13400},{"t":2200,"series":"Passive","mass":13900},{"t":2258,"series":"Passive","mass":14800},
{"t":0,"series":"Explosive","mass":0},{"t":20,"series":"Explosive","mass":60},{"t":50,"series":"Explosive","mass":200},{"t":100,"series":"Explosive","mass":420},{"t":150,"series":"Explosive","mass":640},{"t":200,"series":"Explosive","mass":860},{"t":250,"series":"Explosive","mass":1060},{"t":300,"series":"Explosive","mass":1300},{"t":350,"series":"Explosive","mass":1500},{"t":400,"series":"Explosive","mass":1720},{"t":450,"series":"Explosive","mass":1930},{"t":500,"series":"Explosive","mass":2120},{"t":550,"series":"Explosive","mass":2330},{"t":600,"series":"Explosive","mass":2540},{"t":650,"series":"Explosive","mass":2780},{"t":700,"series":"Explosive","mass":2980},{"t":750,"series":"Explosive","mass":3200},{"t":800,"series":"Explosive","mass":3380},{"t":850,"series":"Explosive","mass":3560},{"t":900,"series":"Explosive","mass":3760},{"t":950,"series":"Explosive","mass":3960},{"t":1000,"series":"Explosive","mass":4180},{"t":1050,"series":"Explosive","mass":4400},{"t":1100,"series":"Explosive","mass":4600},{"t":1150,"series":"Explosive","mass":4820},{"t":1200,"series":"Explosive","mass":5020},{"t":1250,"series":"Explosive","mass":5230},{"t":1300,"series":"Explosive","mass":5420},{"t":1350,"series":"Explosive","mass":5600},{"t":1400,"series":"Explosive","mass":5800},{"t":1450,"series":"Explosive","mass":6020},{"t":1500,"series":"Explosive","mass":6230},{"t":1550,"series":"Explosive","mass":6440},{"t":1600,"series":"Explosive","mass":6650},{"t":1650,"series":"Explosive","mass":6850},{"t":1700,"series":"Explosive","mass":7060},{"t":1750,"series":"Explosive","mass":7300},{"t":1800,"series":"Explosive","mass":7520},{"t":1850,"series":"Explosive","mass":7740},{"t":1900,"series":"Explosive","mass":7980},{"t":1950,"series":"Explosive","mass":8200},{"t":2000,"series":"Explosive","mass":8420},{"t":2050,"series":"Explosive","mass":8630},{"t":2100,"series":"Explosive","mass":8850},{"t":2150,"series":"Explosive","mass":9080},{"t":2200,"series":"Explosive","mass":9300},{"t":2258,"series":"Explosive","mass":9620}
]
},
"columns": 2,
"bounds": "flush",
"spacing": {"row": 32, "column": 36},
"resolve": {"scale": {"x": "independent", "y": "independent", "color": "independent"}, "legend": {"color": "independent"}, "axis": {"x": "independent", "y": "independent"}},
"concat": [
  {
   "width": 691, "height": 461,
   "data": {"name": "fluxA"},
   "layer": [
    {"mark": {"type": "area", "clip": true},
     "encoding": {
      "x": {"field": "t", "type": "quantitative", "scale": {"domain": [0, 4546], "nice": false}, "axis": {"orient": "top", "title": "Time [s]", "values": [0, 1000, 2000, 3000, 4000], "format": "d", "titlePadding": 3}},
      "y": {"field": "total", "type": "quantitative", "scale": {"domain": [0, 25], "nice": false}, "axis": {"orient": "left", "title": "SO₂ Flux [kg s⁻¹]", "values": [0, 5, 10, 15, 20, 25], "titlePadding": 13}},
      "color": {"datum": "Explosive", "type": "nominal", "scale": {"domain": ["Explosive", "Passive"], "range": ["#000000", "#c9c9c9"]},
        "legend": {"orient": "none", "legendX": 572, "legendY": 9, "title": null, "symbolType": "M-1,-0.72H3V0.72H-1Z", "symbolSize": 324, "symbolStrokeWidth": 0, "symbolOpacity": 1, "labelFontSize": 14, "labelFont": "Liberation Serif", "labelColor": "#333", "fillColor": "white", "strokeColor": "#555", "padding": 3, "rowPadding": 2, "labelOffset": 20}}
     }},
    {"mark": {"type": "area", "clip": true},
     "encoding": {
      "x": {"field": "t", "type": "quantitative", "axis": {"orient": "bottom", "labels": false, "title": null, "values": [0, 1000, 2000, 3000, 4000]}},
      "y": {"field": "passive", "type": "quantitative", "axis": {"orient": "right", "labels": false, "title": null, "values": [0, 5, 10, 15, 20, 25]}},
      "color": {"datum": "Passive", "type": "nominal"}
     }},
    {"data": {"values": [{}]},
     "mark": {"type": "text", "fontSize": 21, "fontWeight": "bold", "align": "left", "baseline": "middle", "color": "#111"},
     "encoding": {"x": {"datum": 59, "type": "quantitative", "axis": null}, "y": {"datum": 23.9, "type": "quantitative", "axis": null}, "text": {"value": "(a)"}}}
   ],
   "resolve": {"axis": {"x": "independent", "y": "independent"}}
  },
  {
   "width": 691, "height": 461,
   "layer": [
    {"data": {"name": "fluxBTotal"},
     "mark": {"type": "area", "clip": true, "color": "#000000"},
     "encoding": {
      "x": {"field": "t", "type": "quantitative", "scale": {"domain": [200, 600], "nice": false, "zero": false}, "axis": {"orient": "top", "title": "Time [s]", "values": [200, 240, 280, 320, 360, 400, 440, 480, 520, 560, 600], "format": "d", "titlePadding": 3}},
      "y": {"field": "flux", "type": "quantitative", "scale": {"domain": [0, 10], "nice": false}, "axis": {"orient": "right", "title": "SO₂ Flux [kg s⁻¹]", "values": [0, 1, 2, 3, 4, 5, 6, 7, 8, 9, 10], "titleAngle": 270, "titleBaseline": "top", "titlePadding": 8}}
     }},
    {"data": {"name": "fluxBPassive"},
     "mark": {"type": "area", "clip": true, "color": "#c9c9c9"},
     "encoding": {
      "x": {"field": "t", "type": "quantitative", "axis": {"orient": "bottom", "labels": false, "title": null, "values": [200, 240, 280, 320, 360, 400, 440, 480, 520, 560, 600]}},
      "y": {"field": "flux", "type": "quantitative", "axis": {"orient": "left", "labels": false, "title": null, "values": [0, 1, 2, 3, 4, 5, 6, 7, 8, 9, 10]}}
     }},
    {"data": {"values": [{}]},
     "mark": {"type": "text", "fontSize": 21, "fontWeight": "bold", "align": "left", "baseline": "middle", "color": "#111"},
     "encoding": {"x": {"datum": 207, "type": "quantitative", "axis": null}, "y": {"datum": 9.55, "type": "quantitative", "axis": null}, "text": {"value": "(b)"}}}
   ],
   "resolve": {"axis": {"x": "independent", "y": "independent"}}
  },
  {
   "width": 691, "height": 458,
   "layer": [
    {"data": {"name": "ratio"},
     "mark": {"type": "line", "clip": true, "color": "#000000", "strokeWidth": 1.45},
     "encoding": {
      "x": {"field": "t", "type": "quantitative", "scale": {"domain": [0, 4546], "nice": false}, "axis": {"orient": "bottom", "title": "Time [s]", "values": [0, 1000, 2000, 3000, 4000], "format": "d", "titlePadding": 4}},
      "y": {"field": "r", "type": "quantitative", "scale": {"domain": [0, 8], "nice": false}, "axis": {"orient": "left", "title": "Ratio of Explosive to Passive Gas Release", "values": [0, 1, 2, 3, 4, 5, 6, 7, 8], "titlePadding": 3}}
     }},
    {"data": {"values": [{}]},
     "mark": {"type": "text", "fontSize": 21, "fontWeight": "bold", "align": "left", "baseline": "middle", "color": "#111"},
     "encoding": {"x": {"datum": 46, "type": "quantitative", "axis": {"orient": "top", "labels": false, "title": null, "values": [0, 1000, 2000, 3000, 4000]}}, "y": {"datum": 7.72, "type": "quantitative", "axis": {"orient": "right", "labels": false, "title": null, "values": [0, 1, 2, 3, 4, 5, 6, 7, 8]}}, "text": {"value": "(c)"}}}
   ],
   "resolve": {"axis": {"x": "independent", "y": "independent"}}
  },
  {
   "width": 691, "height": 458,
   "layer": [
    {"data": {"name": "cumulative"},
     "mark": {"type": "line", "clip": true, "strokeWidth": 2},
     "encoding": {
      "x": {"field": "t", "type": "quantitative", "scale": {"domain": [0, 2258], "nice": false}, "axis": {"orient": "bottom", "title": "Time [s]", "values": [0, 500, 1000, 1500, 2000], "format": "d", "titlePadding": 4}},
      "y": {"field": "mass", "type": "quantitative", "scale": {"domain": [0, 15000], "nice": false}, "axis": {"orient": "right", "title": "Cumulative SO₂ Mass [kg]", "values": [0, 5000, 10000, 15000], "format": "d", "titleAngle": 270, "titleBaseline": "top", "titlePadding": 14}},
      "color": {"field": "series", "type": "nominal", "scale": {"domain": ["Passive", "Explosive"], "range": ["#c9c9c9", "#000000"]},
        "legend": {"orient": "none", "legendX": 541, "legendY": 9, "title": null, "symbolType": "M-1,0H3", "symbolSize": 306, "symbolStrokeWidth": 2.2, "symbolFillColor": "transparent", "labelFontSize": 12, "labelFont": "Liberation Serif", "labelColor": "#333", "fillColor": "white", "strokeColor": "#555", "padding": 2, "rowPadding": 0, "labelOffset": 20}}
     }},
    {"data": {"values": [{}]},
     "mark": {"type": "text", "fontSize": 21, "fontWeight": "bold", "align": "left", "baseline": "middle", "color": "#111"},
     "encoding": {"x": {"datum": 16, "type": "quantitative", "axis": {"orient": "top", "labels": false, "title": null, "values": [0, 500, 1000, 1500, 2000]}}, "y": {"datum": 14478, "type": "quantitative", "axis": {"orient": "left", "labels": false, "title": null, "values": [0, 5000, 10000, 15000]}}, "text": {"value": "(d)"}}},
    {"data": {"values": [{}]},
     "mark": {"type": "text", "fontSize": 13, "align": "left", "baseline": "top", "lineHeight": 20.5, "color": "#222"},
     "encoding": {"x": {"datum": 75, "type": "quantitative", "axis": null}, "y": {"datum": 11169, "type": "quantitative", "axis": null}, "text": {"value": ["Passive = 61%", "Explosive = 39%", "Average Passive Release = 3.2 kg s⁻¹", "Average Explosive Release = 2.1 kg s⁻¹"]}}}
   ],
   "resolve": {"axis": {"x": "independent", "y": "independent"}}
  }
]
}
